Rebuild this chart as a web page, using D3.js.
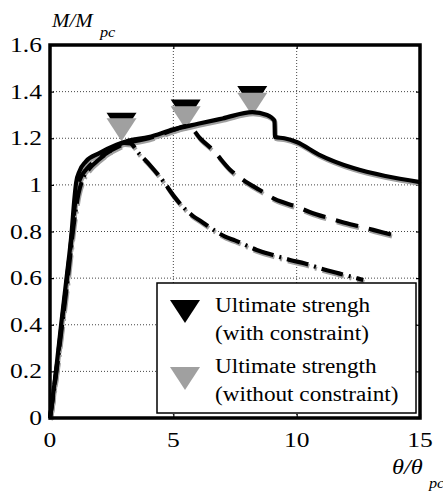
<!DOCTYPE html>
<html>
<head>
<meta charset="utf-8">
<script src="https://cdn.jsdelivr.net/npm/d3@7"></script>
<style>
  html, body { margin: 0; padding: 0; background: #fff; }
  svg { display: block; }
</style>
</head>
<body>
<svg id="chart" width="443" height="492"></svg>
<script>
// Moment–rotation response, normalised by plastic values
const thetaTicks = [0, 5, 10, 15];
const momentTicks = [0, 0.2, 0.4, 0.6, 0.8, 1, 1.2, 1.4, 1.6];
const momentTickLabels = ["0", "0.2", "0.4", "0.6", "0.8", "1", "1.2", "1.4", "1.6"];

// [theta/theta_pc, M/M_pc]
const curveSolid = [
  [0, 0], [0.24, 0.2], [0.45, 0.4], [0.67, 0.6], [0.88, 0.8], [0.98, 0.93], [1.06, 1.01],
  [1.2, 1.06], [1.45, 1.1], [2.0, 1.136], [2.7, 1.172], [3.2, 1.19], [4.0, 1.205], [5.0, 1.238],
  [6.0, 1.262], [7.0, 1.285], [8.2, 1.312], [8.8, 1.3], [9.1, 1.276], [9.12, 1.205],
  [9.5, 1.2], [10.0, 1.184], [10.9, 1.13], [12.3, 1.072], [13.6, 1.038], [15.0, 1.012]
];
const curveDashed = [
  [0, 0], [0.25, 0.2], [0.47, 0.4], [0.69, 0.6], [0.9, 0.8], [1.05, 0.95], [1.2, 1.02],
  [1.5, 1.07], [2.0, 1.115], [3.0, 1.175], [4.0, 1.2], [5.0, 1.235], [5.5, 1.252],
  [5.75, 1.242], [6.08, 1.2], [6.6, 1.15], [7.3, 1.065], [7.85, 1.02], [8.5, 0.978],
  [9.1, 0.94], [10.0, 0.906], [10.5, 0.885], [11.35, 0.856], [11.8, 0.842],
  [12.7, 0.818], [13.1, 0.807], [13.9, 0.785]
];
const curveDashDot = [
  [0, 0], [0.26, 0.2], [0.49, 0.4], [0.72, 0.6], [0.95, 0.82], [1.15, 0.96], [1.35, 1.03],
  [1.6, 1.07], [2.0, 1.11], [2.5, 1.15], [3.0, 1.18], [3.25, 1.178], [3.6, 1.135],
  [4.05, 1.085], [4.66, 1.006], [5.0, 0.955], [5.8, 0.866], [6.15, 0.842], [6.42, 0.822],
  [7.1, 0.778], [7.5, 0.762], [8.38, 0.721], [9.05, 0.699], [9.73, 0.678],
  [10.34, 0.663], [11.08, 0.638], [11.62, 0.623], [12.43, 0.6], [12.7, 0.592]
];

// Ultimate strength points
const ultimateTheta = [2.9, 5.5, 8.2];
const ultimateWith = [1.211, 1.268, 1.326];
const ultimateWithout = [1.187, 1.239, 1.297];

const legendLabels = [
  ["Ultimate strengh", "(with constraint)"],
  ["Ultimate strength", "(without constraint)"]
];

const BLACK = "#000";
const GRAY = "#a0a0a0";
const FONT = "'Liberation Serif', 'Times New Roman', serif";
const SX = 1.16; // horizontal stretch of the lettering

const svg = d3.select("#chart");
const x = d3.scaleLinear().domain([0, 15]).range([50, 420]);
const y = d3.scaleLinear().domain([0, 1.6]).range([418, 45]);

function label(g, px, py, str, size, opts = {}) {
  return g.append("text")
    .attr("transform", `translate(${px},${py}) scale(${opts.sx || SX},1)`)
    .attr("font-family", FONT)
    .attr("font-size", size)
    .attr("font-style", opts.italic ? "italic" : "normal")
    .attr("text-anchor", opts.anchor || "start")
    .attr("fill", "#000")
    .text(str);
}

// Dotted grid
const grid = svg.append("g");
grid.selectAll("line.gx").data(thetaTicks.slice(1, -1)).join("line")
  .attr("x1", d => x(d)).attr("x2", d => x(d))
  .attr("y1", y(0)).attr("y2", y(1.6))
  .attr("stroke", "#444").attr("stroke-width", 1).attr("stroke-dasharray", "1,2");
grid.selectAll("line.gy").data(momentTicks.slice(1, -1)).join("line")
  .attr("x1", x(0)).attr("x2", x(15))
  .attr("y1", d => y(d)).attr("y2", d => y(d))
  .attr("stroke", "#444").attr("stroke-width", 1).attr("stroke-dasharray", "1,2");

// Axes with inward ticks on all four sides
function styleAxis(g) {
  g.select(".domain").remove();
  g.selectAll(".tick line").attr("stroke", "#000").attr("stroke-width", 1.2);
  g.selectAll("text").remove();
}
svg.append("g").attr("transform", `translate(0,${y(0)})`)
  .call(d3.axisBottom(x).tickValues(thetaTicks).tickSize(-4)).call(styleAxis);
svg.append("g").attr("transform", `translate(0,${y(1.6)})`)
  .call(d3.axisTop(x).tickValues(thetaTicks).tickSize(-4)).call(styleAxis);
svg.append("g").attr("transform", `translate(${x(0)},0)`)
  .call(d3.axisLeft(y).tickValues(momentTicks).tickSize(-4)).call(styleAxis);
svg.append("g").attr("transform", `translate(${x(15)},0)`)
  .call(d3.axisRight(y).tickValues(momentTicks).tickSize(-4)).call(styleAxis);

// Tick labels
const tl = svg.append("g");
thetaTicks.forEach(t => label(tl, x(t), y(0) + 29, String(t), 22, { anchor: "middle" }));
momentTicks.forEach((m, i) => label(tl, x(0) - 8, y(m) + 7, momentTickLabels[i], 22, { anchor: "end" }));

// Axis titles
const titles = svg.append("g");
label(titles, 52, 27, "M/M", 19, { italic: true, sx: 1.1 });
label(titles, 100, 37, "pc", 14, { italic: true });
label(titles, 392, 474, "\u03b8/\u03b8", 21, { italic: true });
label(titles, 429, 488, "pc", 14, { italic: true });

// Ultimate-strength markers (drawn beneath the curves)
function tri(px, py) {
  return `M${px},${py}L${px - 15},${py - 23}L${px + 15},${py - 23}Z`;
}
const markers = svg.append("g");
markers.selectAll("path.mw").data(ultimateTheta).join("path")
  .attr("d", (t, i) => tri(x(t), y(ultimateWith[i]))).attr("fill", BLACK);
markers.selectAll("path.mo").data(ultimateTheta).join("path")
  .attr("d", (t, i) => tri(x(t), y(ultimateWithout[i]))).attr("fill", GRAY);

// Curves: grey response (without constraint) under the black one
const line = d3.line().x(d => x(d[0])).y(d => y(d[1])).curve(d3.curveMonotoneX);
const curves = [
  { data: curveSolid, dash: null },
  { data: curveDashed, dash: "23,11" },
  { data: curveDashDot, dash: "22,6,2,6" }
];
const shadow = svg.append("g").attr("transform", "translate(1,2)");
shadow.selectAll("path").data(curves).join("path")
  .attr("d", c => line(c.data)).attr("fill", "none")
  .attr("stroke", GRAY).attr("stroke-width", 4.2)
  .attr("stroke-dasharray", c => c.dash);
const main = svg.append("g");
main.selectAll("path").data(curves).join("path")
  .attr("d", c => line(c.data)).attr("fill", "none")
  .attr("stroke", BLACK).attr("stroke-width", 4.2)
  .attr("stroke-dasharray", c => c.dash);

// Frame
svg.append("rect")
  .attr("x", x(0)).attr("y", y(1.6))
  .attr("width", x(15) - x(0)).attr("height", y(0) - y(1.6))
  .attr("fill", "none").attr("stroke", "#000").attr("stroke-width", 3.5);

// Legend
const lg = svg.append("g");
lg.append("rect").attr("x", 157).attr("y", 283).attr("width", 259).attr("height", 130)
  .attr("fill", "#fff").attr("stroke", "#000").attr("stroke-width", 1.5);
lg.append("path").attr("d", tri(185, 323)).attr("fill", BLACK);
lg.append("path").attr("d", tri(185, 390)).attr("fill", GRAY);
label(lg, 215, 312, legendLabels[0][0], 20);
label(lg, 215, 340, legendLabels[0][1], 20);
label(lg, 215, 373, legendLabels[1][0], 20);
label(lg, 215, 401, legendLabels[1][1], 20);
</script>
</body>
</html>
